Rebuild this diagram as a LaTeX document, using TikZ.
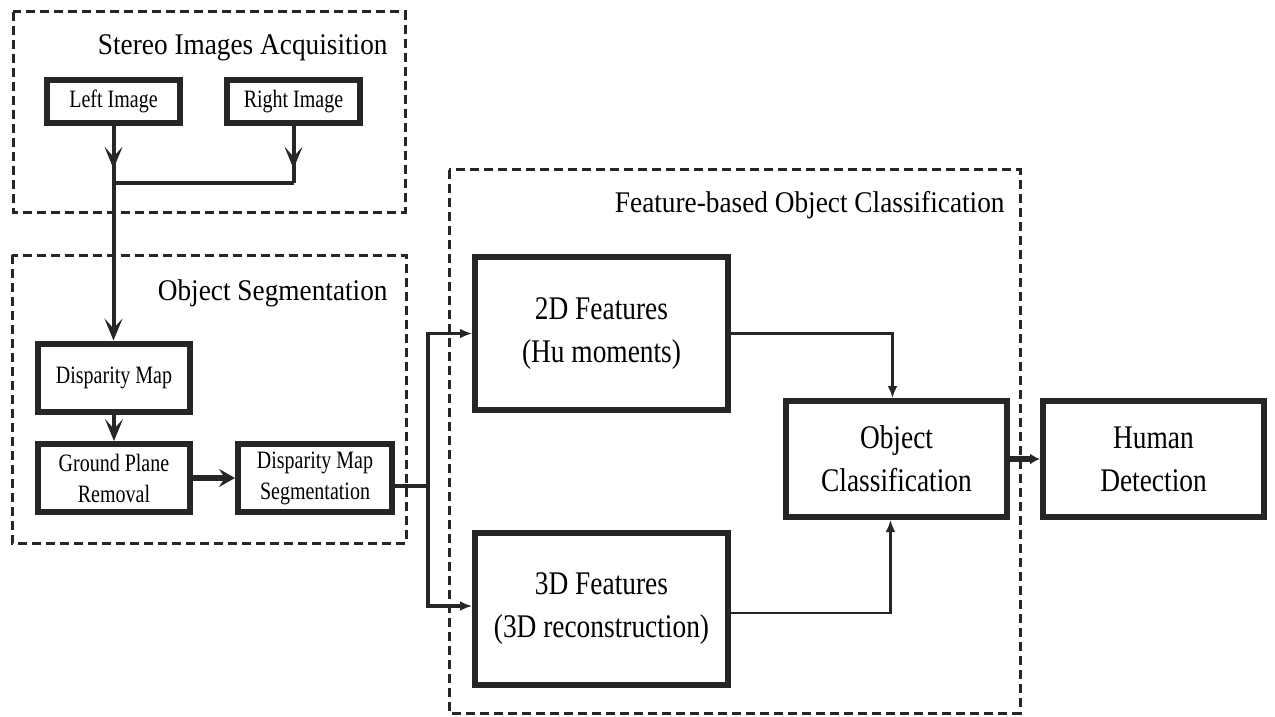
\documentclass[tikz,border=0pt]{standalone}
\usepackage{fontspec}
\setmainfont{Liberation Serif}
\newfontfamily\smallface[FakeStretch=0.8]{Liberation Serif}
\newfontfamily\bigface[FakeStretch=0.83]{Liberation Serif}
\newfontfamily\titleface[FakeStretch=0.91]{Liberation Serif}
\usetikzlibrary{arrows.meta,calc}
\begin{document}
\begin{tikzpicture}[x=0.5pt,y=-0.5pt,
  frame/.style={draw=black!85, line width=1.5pt, dash pattern=on 4.5pt off 2.5pt},
  grouptitle/.style={anchor=base east, inner sep=0pt, font=\titleface\fontsize{15}{18}\selectfont},
  smallbox/.style={draw=black!85, line width=3pt, fill=white, align=center, inner sep=0pt,
    minimum width=66.5pt, minimum height=21.5pt, font=\smallface\fontsize{12.5}{15.5}\selectfont},
  midbox/.style={smallbox, minimum width=76pt, minimum height=34pt},
  bigbox/.style={draw=black!85, line width=3pt, fill=white, align=center, inner sep=0pt,
    font=\bigface\fontsize{16.5}{21.5}\selectfont},
  conn/.style={draw=black!85, line width=2pt},
  chev/.style={-{Stealth[length=11pt,width=9pt,inset=5pt]}},
  tip/.style={-{Latex[length=6pt,width=5pt]}}
]
\useasboundingbox (0,0) rectangle (1275,717);

% group frames
\draw[frame] (13,12) rectangle (405,212);
\draw[frame] (12,255) rectangle (406,543);
\draw[frame] (449,170) rectangle (1020,713);
\node[grouptitle] (t1) at (388,55) {Stereo Images Acquisition};
\node[grouptitle] (t2) at (388,300) {Object Segmentation};
\node[grouptitle] (t3) at (1005,213) {Feature-based Object Classification};

% stereo inputs
\node[smallbox] (left) at (113.5,101.5) {Left Image};
\node[smallbox] (right) at (293.5,101.5) {Right Image};

% segmentation stages
\node[midbox] (dmap) at (114,377.5) {Disparity Map};
\node[midbox] (gpr) at (114,478) {Ground Plane\\Removal};
\node[midbox, minimum width=77pt] (dms) at (315,478) {Disparity Map\\Segmentation};

% feature extraction and classification
\node[bigbox, minimum width=126.5pt, minimum height=76.5pt] (f2d) at (601.5,333.5) {2D Features\\(Hu moments)};
\node[bigbox, minimum width=126.5pt, minimum height=76pt] (f3d) at (601.5,609) {3D Features\\(3D reconstruction)};
\node[bigbox, minimum width=110.5pt, minimum height=58pt] (oc) at (896.5,459) {Object\\Classification};
\node[bigbox, minimum width=110.5pt, minimum height=58pt] (hd) at (1153.5,459) {Human\\Detection};

% merge of the two images
\coordinate (jl) at (left.south |- 0,183);
\coordinate (jr) at (right.south |- 0,183);
\draw[conn] (left.south) -- (jl);
\draw[conn] (right.south) -- (jr);
\draw[conn, chev] (left.south) -- ($(left.south)!0.75!(jl)$);
\draw[conn, chev] (right.south) -- ($(right.south)!0.75!(jr)$);
\draw[conn] (jl) -- (jr);
\draw[conn, chev] (jl) -- (dmap.north -| jl);

% segmentation chain
\draw[conn, chev] (dmap) -- (gpr);
\draw[draw=black!85, line width=2.8pt, -{Stealth[length=8pt,width=9pt,inset=3pt]}] (gpr) -- (dms);

% split to the two feature extractors
\coordinate (split) at (428,486);
\draw[draw=black!85, line width=1.6pt] ([yshift=-4pt]dms.east) -- (split);
\draw[draw=black!85, line width=1.6pt, tip] (split) |- (f2d.west);
\draw[draw=black!85, line width=1.6pt, tip] (split) |- ([yshift=1.5pt]f3d.west);

% features to classifier
\draw[draw=black!85, line width=1.2pt, tip] (f2d.east) -| ([xshift=-2pt]oc.north);
\draw[draw=black!85, line width=1.2pt, tip] ([yshift=-2pt]f3d.east) -| ([xshift=-3pt]oc.south);

% classifier to detection
\draw[draw=black!85, line width=2.6pt, -{Latex[length=5pt,width=5.5pt]}] (oc) -- (hd);
\end{tikzpicture}
\end{document}
